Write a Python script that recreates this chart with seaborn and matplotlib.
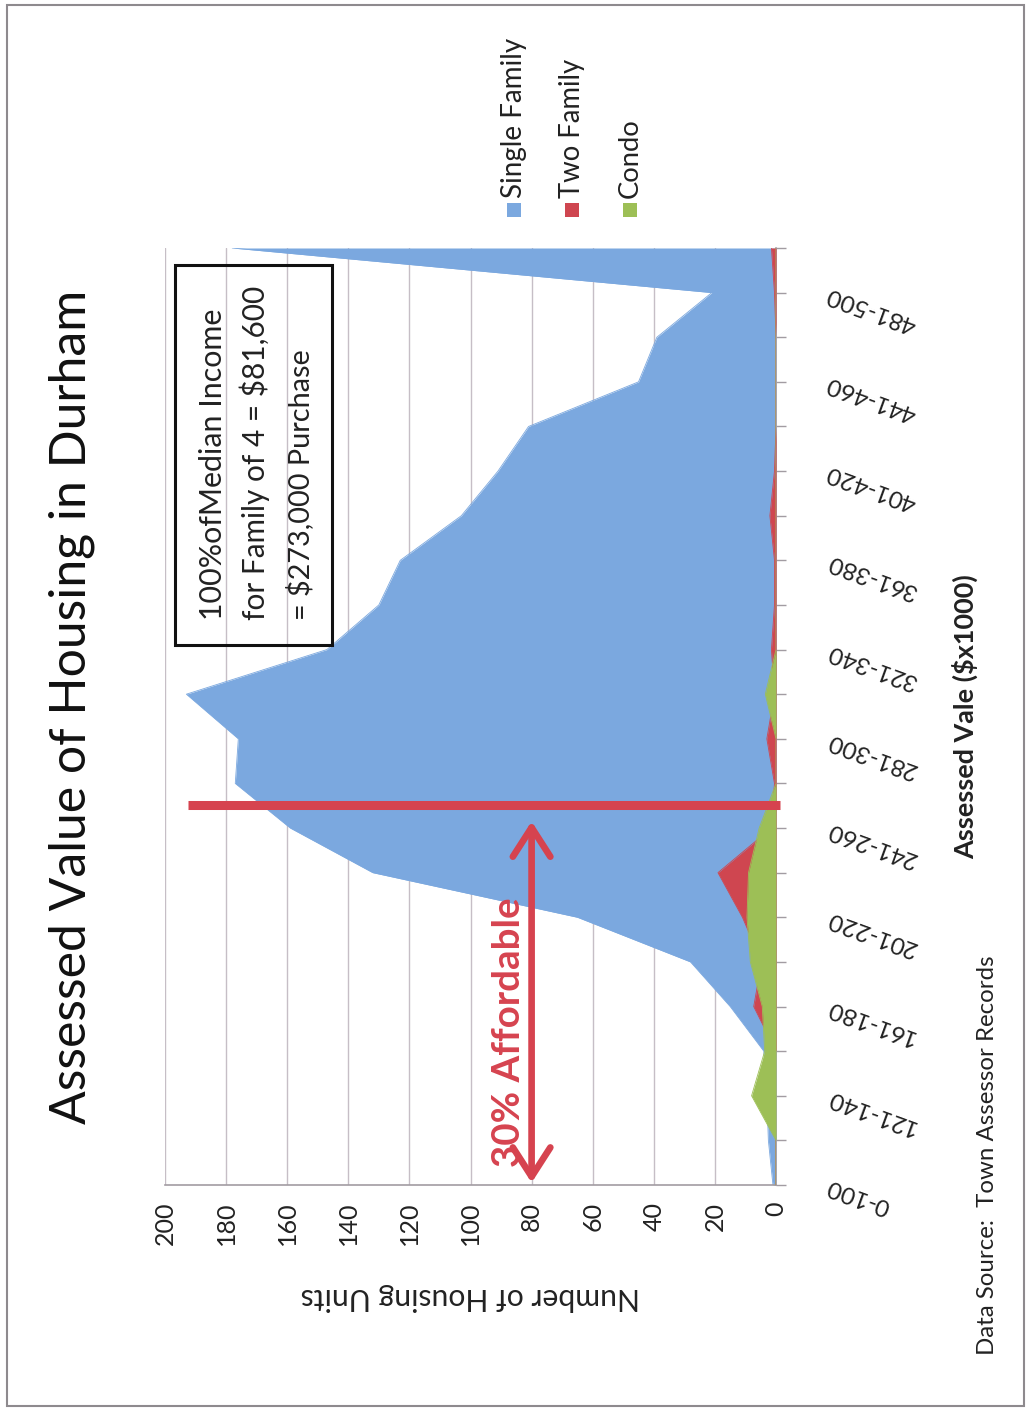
import matplotlib
matplotlib.use("Agg")
import matplotlib.pyplot as plt
from matplotlib.patches import Rectangle
import numpy as np
import pandas as pd
import seaborn as sns

# ---- data ---------------------------------------------------------------
categories = ["0-100", "101-120", "121-140", "141-160", "161-180", "181-200",
              "201-220", "221-240", "241-260", "261-280", "281-300", "301-320",
              "321-340", "341-360", "361-380", "381-400", "401-420", "421-440",
              "441-460", "461-480", "481-500", ">500"]
single_family = [1, 2.5, 3, 4, 15, 28, 65, 132, 159, 177, 176, 193,
                 147, 130, 123, 103, 91, 81, 45, 39, 21, 178]
two_family = [0, 0, 0, 0, 7.3, 4.7, 11, 19, 1.5, 0.5, 3, 0.5,
              1.5, 0.5, 0.5, 2, 0.5, 0, 0, 0, 0.5, 1.5]
condo = [0, 0, 8, 3.7, 4.5, 8.4, 9.5, 9, 5.5, 0, 0, 3.5,
         0, 0, 0, 0, 0, 0, 0, 0, 0, 0]
series_names = ["Single Family", "Two Family", "Condo"]
count_ticks = list(range(0, 201, 20))

df = pd.DataFrame({"pos": np.arange(len(categories)),
                   "Single Family": single_family,
                   "Two Family": two_family,
                   "Condo": condo})

# ---- style --------------------------------------------------------------
sns.set_style("white")
plt.rcParams["font.family"] = ["Lato", "DejaVu Sans"]
palette = sns.color_palette(["#7BA8DF", "#CF4650", "#9DBF56"])
ANNOT_RED = "#D6434F"
GRID = "#C6BEC6"
AXIS = "#A29CA2"

W, H = 1029, 1410
fig = plt.figure(figsize=(W / 100, H / 100), dpi=100)


def fx(px):
    return px / W


def fy(py):
    return 1 - py / H


ax = fig.add_axes([fx(165), fy(1185), fx(776) - fx(165), fy(248) - fy(1185)])
ax.set_axisbelow(True)

# areas (later series in front)
for z, (name, col) in enumerate(zip(series_names, palette)):
    ax.fill_betweenx(df["pos"], 0, df[name], color=col, lw=0, zorder=2 + z)
    sns.lineplot(data=df, x=name, y="pos", orient="y", color=col, lw=0.6,
                 ax=ax, zorder=2 + z, legend=False)

# count axis (horizontal, reversed)
ax.set_xlim(200, 0)
ax.set_xticks(count_ticks)
ax.set_xticklabels([str(v) for v in count_ticks], rotation=90,
                   fontsize=18, color="#222222")
ax.tick_params(axis="x", direction="out", length=7, width=1, color=AXIS, pad=5)
ax.xaxis.grid(True, color=GRID, lw=1)
ax.yaxis.grid(False)
ax.set_xlabel("")
ax.set_ylabel("")

# category axis (vertical, on the right)
ax.set_ylim(0, len(categories) - 1)
ax.yaxis.tick_right()
ax.set_yticks(df["pos"])
ax.set_yticklabels([c if (i % 2 == 0 and i < len(categories) - 1) else ""
                    for i, c in enumerate(categories)], fontsize=17.5,
                   color="#222222")
ax.tick_params(axis="y", direction="out", length=7, width=1, color=AXIS,
               pad=30, left=False, right=True)
for lab in ax.get_yticklabels():
    lab.set_rotation(160)
    lab.set_rotation_mode("anchor")
    lab.set_ha("right")
    lab.set_va("center")

for s in ["left", "top"]:
    ax.spines[s].set_visible(False)
for s in ["bottom", "right"]:
    ax.spines[s].set_color(AXIS)
    ax.spines[s].set_linewidth(1.2)

# affordability marker and range arrow
purchase_pos = 8.52
ax.plot([192.5, -1.3], [purchase_pos, purchase_pos], color=ANNOT_RED, lw=6.5,
        solid_capstyle="butt", clip_on=False, zorder=8)
ax.annotate("", xy=(80, 0.05), xytext=(80, 8.15),
            arrowprops=dict(arrowstyle="<->,head_length=0.7,head_width=0.45",
                            mutation_scale=30, color=ANNOT_RED, lw=4.8,
                            shrinkA=0, shrinkB=0), zorder=8)

# ---- texts --------------------------------------------------------------
fitted = []


def ftext(x, y, s, target, **kw):
    t = fig.text(fx(x), fy(y), s, **kw)
    fitted.append((t, target))
    return t


ftext(72, 707, "Assessed Value of Housing in Durham", 835, rotation=90,
      ha="center", va="center", fontsize=36, color="#111111")
ftext(470, 1297, "Number of Housing Units", 340, rotation=180,
      ha="center", va="center", fontsize=16, color="#222222")
ftext(965, 717, "Assessed Vale ($x1000)", 285, rotation=90,
      ha="center", va="center", fontsize=16, fontweight="bold",
      color="#222222")
ftext(988, 1355, "Data Source:  Town Assessor Records", 400, rotation=90,
      ha="center", va="bottom", fontsize=15, color="#222222")
ftext(509, 1032, "30% Affordable", 270, rotation=90, ha="center",
      va="center", fontsize=18, fontweight="bold", color=ANNOT_RED)

# annotation box
fig.patches.append(Rectangle((fx(175), fy(645)), fx(332) - fx(175),
                             fy(265) - fy(645), transform=fig.transFigure,
                             fill=False, ec="#111111", lw=2.2, zorder=10))
box_lines = [("100%ofMedian Income", 213, 312),
             ("for Family of 4 = $81,600", 255, 334),
             ("= $273,000 Purchase", 300, 272)]
for s, x, target in box_lines:
    ftext(x, 620, s, target, rotation=90, ha="center", va="bottom",
          fontsize=20, color="#222222")

# legend
legend_items = [("Single Family", 514, 160), ("Two Family", 572, 140),
                ("Condo", 630, 80)]
for (label, x, target), col in zip(legend_items, palette):
    fig.patches.append(Rectangle((fx(x - 7), fy(217)), 14 / W, 14 / H,
                                 transform=fig.transFigure, color=col,
                                 lw=0))
    ftext(x, 198, label, target, rotation=90, ha="center", va="bottom",
          fontsize=16, color="#222222")

# page frame
fig.patches.append(Rectangle((fx(7), fy(1406)), fx(1024) - fx(7),
                             fy(5) - fy(1406), transform=fig.transFigure,
                             fill=False, ec="#8E8A8E", lw=1.5))

# scale each text so its run length matches the layout
fig.canvas.draw()
renderer = fig.canvas.get_renderer()
for t, target in fitted:
    bb = t.get_window_extent(renderer)
    rot = t.get_rotation() % 180
    length = bb.height if abs(rot - 90) < 1 else bb.width
    t.set_fontsize(t.get_fontsize() * target / length)

fig.savefig("out.png", dpi=100, facecolor="white")
